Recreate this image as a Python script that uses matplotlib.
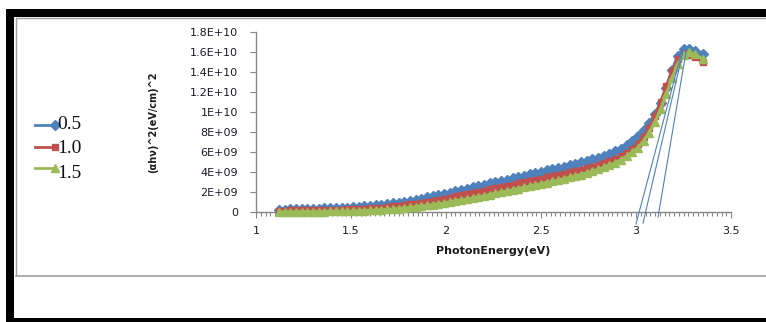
import matplotlib
matplotlib.use("Agg")
import matplotlib.pyplot as plt
from matplotlib.patches import Rectangle
from matplotlib.lines import Line2D
from matplotlib.ticker import MultipleLocator

# ---------------- data ----------------
energy = [1.12, 1.15, 1.18, 1.21, 1.24, 1.27, 1.30, 1.33, 1.36, 1.39,
          1.42, 1.45, 1.48, 1.51, 1.54, 1.57, 1.60, 1.63, 1.66, 1.69,
          1.72, 1.75, 1.78, 1.81, 1.84, 1.87, 1.90, 1.93, 1.96, 1.99,
          2.02, 2.05, 2.08, 2.11, 2.14, 2.17, 2.20, 2.23, 2.26, 2.29,
          2.32, 2.35, 2.38, 2.41, 2.44, 2.47, 2.50, 2.53, 2.56, 2.59,
          2.62, 2.65, 2.68, 2.71, 2.74, 2.77, 2.80, 2.83, 2.86, 2.89,
          2.92, 2.95, 2.98, 3.01, 3.04, 3.07, 3.10, 3.13, 3.16, 3.19,
          3.22, 3.25, 3.28, 3.31, 3.35]

# (alpha h nu)^2 in units of 1e9
s05 = [0.20, 0.24, 0.26, 0.27, 0.29, 0.30, 0.32, 0.34, 0.36, 0.38,
       0.40, 0.42, 0.45, 0.48, 0.52, 0.56, 0.61, 0.66, 0.72, 0.79,
       0.87, 0.95, 1.04, 1.14, 1.24, 1.35, 1.46, 1.58, 1.70, 1.82,
       1.95, 2.08, 2.21, 2.34, 2.47, 2.60, 2.73, 2.86, 2.99, 3.12,
       3.25, 3.38, 3.51, 3.64, 3.77, 3.90, 4.03, 4.16, 4.29, 4.42,
       4.55, 4.68, 4.82, 4.96, 5.11, 5.27, 5.44, 5.62, 5.83, 6.07,
       6.35, 6.68, 7.08, 7.58, 8.18, 8.90, 9.80, 10.95, 12.4, 14.2,
       15.6, 16.3, 16.3, 16.1, 15.8]

s10 = [0.10, 0.15, 0.16, 0.17, 0.17, 0.18, 0.19, 0.20, 0.21, 0.22,
       0.23, 0.25, 0.27, 0.29, 0.31, 0.34, 0.37, 0.41, 0.45, 0.50,
       0.56, 0.62, 0.69, 0.77, 0.85, 0.94, 1.03, 1.13, 1.23, 1.34,
       1.45, 1.56, 1.67, 1.79, 1.91, 2.03, 2.15, 2.27, 2.39, 2.51,
       2.63, 2.75, 2.87, 2.99, 3.11, 3.23, 3.35, 3.47, 3.59, 3.71,
       3.84, 3.97, 4.10, 4.24, 4.39, 4.55, 4.72, 4.90, 5.10, 5.33,
       5.60, 5.92, 6.32, 6.85, 7.55, 8.45, 9.60, 11.0, 12.6, 14.1,
       15.3, 15.8, 15.7, 15.5, 15.0]

s15 = [0.00, 0.02, 0.03, 0.03, 0.03, 0.04, 0.04, 0.05, 0.05, 0.06,
       0.07, 0.08, 0.09, 0.10, 0.12, 0.14, 0.16, 0.19, 0.22, 0.26,
       0.30, 0.35, 0.40, 0.46, 0.52, 0.59, 0.66, 0.74, 0.82, 0.91,
       1.00, 1.10, 1.20, 1.30, 1.41, 1.52, 1.63, 1.74, 1.86, 1.98,
       2.10, 2.22, 2.34, 2.46, 2.58, 2.70, 2.82, 2.94, 3.06, 3.19,
       3.32, 3.46, 3.60, 3.75, 3.91, 4.08, 4.26, 4.46, 4.68, 4.93,
       5.22, 5.56, 5.96, 6.45, 7.10, 7.95, 9.00, 10.3, 11.8, 13.4,
       14.8, 15.7, 16.0, 15.8, 15.3]

series_labels = ["0.5", "1.0", "1.5"]

# tangent (Tauc extrapolation) lines: (x0, y0) -> (x1, y1), y in 1e9
tangent_x = [[3.00, 3.242], [3.037, 3.247], [3.116, 3.263]]
tangent_y = [[-1.2, 16.1], [-1.1, 16.0], [-0.5, 16.0]]

yticks = [0, 2e9, 4e9, 6e9, 8e9, 1e10, 1.2e10, 1.4e10, 1.6e10, 1.8e10]
ytick_labels = ["0", "2E+09", "4E+09", "6E+09", "8E+09", "1E+10",
                "1.2E+10", "1.4E+10", "1.6E+10", "1.8E+10"]
xticks = [1, 1.5, 2, 2.5, 3, 3.5]
xtick_labels = ["1", "1.5", "2", "2.5", "3", "3.5"]

colors = ["#4F81BD", "#C0504D", "#9BBB59"]
markers = ["D", "s", "^"]
msizes = [5.0, 5.0, 5.5]

W, H = 766, 322
fig = plt.figure(figsize=(W / 100, H / 100), dpi=100)
fig.patch.set_facecolor("white")


def fx(px):
    return px / W


def fy(py):
    return 1 - py / H


# outer black frame
fig.patches.append(Rectangle((fx(6), fy(17)), fx(760), 8 / H, transform=fig.transFigure,
                             facecolor="black", edgecolor="none"))
fig.patches.append(Rectangle((fx(6), 0), 8 / W, fy(9), transform=fig.transFigure,
                             facecolor="black", edgecolor="none"))
fig.patches.append(Rectangle((fx(6), 0), fx(760), 4 / H, transform=fig.transFigure,
                             facecolor="black", edgecolor="none"))
# inner grey lines
fig.add_artist(Line2D([fx(16), fx(16)], [fy(18), fy(275)], transform=fig.transFigure,
                      color="#a0a0a0", lw=1.0))
fig.add_artist(Line2D([fx(16), 1], [fy(18), fy(18)], transform=fig.transFigure,
                      color="#a0a0a0", lw=1.0))
fig.add_artist(Line2D([fx(16), 1], [fy(275.5), fy(275.5)], transform=fig.transFigure,
                      color="#a0a0a0", lw=1.2))

ax = fig.add_axes([fx(256), fy(212), fx(731) - fx(256), (212 - 32) / H])

for ys, c, m, ms, lab in zip([s05, s10, s15], colors, markers, msizes, series_labels):
    ax.plot(energy, [v * 1e9 for v in ys], color=c, lw=2.2, marker=m, ms=ms,
            mec=c, mfc=c, label=lab, clip_on=False, zorder=3)

for tx, ty in zip(tangent_x, tangent_y):
    ax.plot(tx, [v * 1e9 for v in ty], color="#4F81BD", lw=0.8, clip_on=False, zorder=4)

ax.set_xlim(1, 3.5)
ax.set_ylim(0, 1.8e10)
ax.set_xticks(xticks)
ax.set_xticklabels(xtick_labels)
ax.set_yticks(yticks)
ax.set_yticklabels(ytick_labels)
ax.xaxis.set_minor_locator(MultipleLocator(0.025))

for s in ["top", "right"]:
    ax.spines[s].set_visible(False)
for s in ["left", "bottom"]:
    ax.spines[s].set_color("#868686")
    ax.spines[s].set_linewidth(1.0)

ax.tick_params(axis="both", which="major", direction="out", length=4, width=0.8,
               color="#868686", labelsize=8, labelcolor="#1a1a2a")
ax.tick_params(axis="x", which="major", pad=6)
ax.tick_params(axis="x", which="minor", direction="out", length=3, width=0.8,
               color="#868686")
ax.tick_params(axis="y", which="major", pad=9)

ax.set_xlabel("PhotonEnergy(eV)", fontsize=8, fontweight="bold", labelpad=7,
              color="#1a1a1a")
ax.set_ylabel("(\u03b1h\u03bd)^2(eV/cm)^2", fontsize=7, fontweight="bold",
              color="#1a1a1a")
ax.yaxis.set_label_coords((158 - 256) / (731 - 256), (212 - 122) / 180)

# legend drawn manually: short line with marker at its right end, then label
leg_line_y = [125, 147, 168]
leg_text_y = [124, 149, 174]
for c, m, ms, lab, ly, ty in zip(colors, markers, msizes, series_labels,
                                 leg_line_y, leg_text_y):
    fig.add_artist(Line2D([fx(35), fx(55)], [fy(ly), fy(ly)], transform=fig.transFigure,
                          color=c, lw=2.0))
    fig.add_artist(Line2D([fx(55)], [fy(ly)], transform=fig.transFigure,
                          color=c, marker=m, ms=ms, mfc=c, mec=c, lw=0))
    fig.text(fx(57), fy(ty), lab, family="Liberation Serif", fontsize=14,
             va="center", ha="left", color="#111111")

fig.savefig("out.png", dpi=100, facecolor="white")
